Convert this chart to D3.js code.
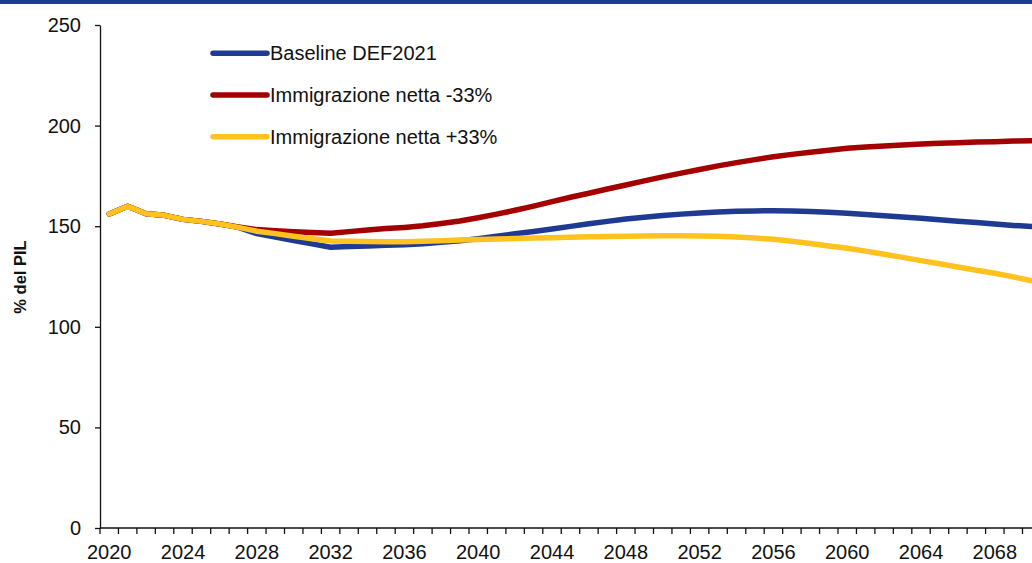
<!DOCTYPE html>
<html>
<head>
<meta charset="utf-8">
<script src="https://cdn.jsdelivr.net/npm/d3@7"></script>
<style>
  html, body { margin: 0; padding: 0; background: #fff; }
  svg { display: block; }
  text { font-family: "Liberation Sans", Arial, sans-serif; fill: #111; }
</style>
</head>
<body>
<svg id="chart" width="1032" height="563"></svg>
<script>
const years = d3.range(2020, 2071);
const seriesNames = ["Baseline DEF2021", "Immigrazione netta -33%", "Immigrazione netta +33%"];
const seriesColors = ["#1f3a93", "#a50000", "#ffc21e"];
const yTicks = [0, 50, 100, 150, 200, 250];
const xTickLabels = [2020, 2024, 2028, 2032, 2036, 2040, 2044, 2048, 2052, 2056, 2060, 2064, 2068];

const baseline = [
  156.1, 159.9, 156.2, 155.4, 153.4, 152.4, 151.1, 149.4, 146.3, 144.6,
  142.9, 141.2, 139.5, 139.9, 140.2, 140.5, 140.8, 141.3, 142.0, 142.8,
  143.8, 145.0, 146.2, 147.4, 148.6, 149.9, 151.2, 152.4, 153.6, 154.5,
  155.3, 156.0, 156.6, 157.0, 157.4, 157.6, 157.7, 157.6, 157.3, 156.9,
  156.4, 155.8, 155.2, 154.6, 153.9, 153.2, 152.5, 151.8, 151.1, 150.4,
  149.8
];
const immMinus33 = [
  156.1, 159.9, 156.2, 155.4, 153.4, 152.4, 151.1, 149.6, 148.3, 147.8,
  147.3, 146.9, 146.5, 147.3, 148.1, 148.8, 149.4, 150.2, 151.3, 152.6,
  154.2, 156.0, 157.9, 160.0, 162.2, 164.4, 166.4, 168.5, 170.5, 172.5,
  174.5, 176.4, 178.2, 180.0, 181.6, 183.1, 184.5, 185.7, 186.8, 187.8,
  188.7, 189.4, 189.9, 190.4, 190.9, 191.2, 191.5, 191.8, 192.0, 192.3,
  192.5
];
const immPlus33 = [
  156.1, 159.9, 156.2, 155.4, 153.4, 152.4, 151.1, 149.4, 147.5, 146.3,
  145.0, 143.8, 142.6, 142.5, 142.4, 142.3, 142.3, 142.5, 142.8, 143.1,
  143.4, 143.6, 143.9, 144.1, 144.3, 144.5, 144.7, 144.9, 145.0, 145.1,
  145.2, 145.2, 145.1, 145.0, 144.6, 144.1, 143.5, 142.5, 141.4, 140.2,
  139.0, 137.6, 136.1, 134.5, 132.9, 131.3, 129.7, 128.1, 126.6, 124.8,
  122.9
];
const seriesValues = [baseline, immMinus33, immPlus33];

const svg = d3.select("#chart");
const W = 1032, H = 563;
const mLeft = 100, mTop = 25, mBottom = 528;
const bandW = 18.45;

svg.append("rect").attr("x", 0).attr("y", 0).attr("width", W).attr("height", 4).attr("fill", "#1f3a93");

const x = d3.scaleBand().domain(years).range([mLeft, mLeft + years.length * bandW]).paddingInner(0).paddingOuter(0);
const y = d3.scaleLinear().domain([0, 250]).range([mBottom, mTop]);

// Y axis
const yAxis = svg.append("g").attr("transform", `translate(${mLeft},0)`)
  .call(d3.axisLeft(y).tickValues(yTicks).tickSize(5).tickPadding(14).tickSizeOuter(0));
yAxis.select(".domain").attr("stroke", "#111").attr("stroke-width", 1.3);
yAxis.selectAll(".tick line").attr("stroke", "#111").attr("stroke-width", 1.3);
yAxis.selectAll("text").style("font-size", "20px").attr("fill", "#111");

// X axis (labels)
const xAxis = svg.append("g").attr("transform", `translate(0,${mBottom})`)
  .call(d3.axisBottom(x).tickValues(xTickLabels).tickSize(0).tickPadding(17).tickSizeOuter(0));
xAxis.select(".domain").remove();
xAxis.selectAll("text").style("font-size", "20px").attr("fill", "#111");

// X axis line and ticks at band boundaries
svg.append("line").attr("x1", mLeft).attr("x2", W).attr("y1", mBottom).attr("y2", mBottom)
  .attr("stroke", "#111").attr("stroke-width", 1.3);
svg.append("g").selectAll("line").data(years).join("line")
  .attr("x1", d => x(d)).attr("x2", d => x(d))
  .attr("y1", mBottom).attr("y2", mBottom + 6)
  .attr("stroke", "#111").attr("stroke-width", 1.3);

// Y axis title
svg.append("text")
  .attr("transform", "translate(26,277) rotate(-90)")
  .attr("text-anchor", "middle")
  .style("font-size", "16.5px").style("font-weight", "bold")
  .text("% del PIL");

// Lines
const line = d3.line()
  .x((d, i) => x(years[i]) + x.bandwidth() / 2)
  .y(d => y(d))
  .curve(d3.curveLinear);

seriesValues.forEach((vals, k) => {
  svg.append("path").datum(vals)
    .attr("d", line)
    .attr("fill", "none")
    .attr("stroke", seriesColors[k])
    .attr("stroke-width", 5.5)
    .attr("stroke-linejoin", "round")
    .attr("stroke-linecap", "round");
});

// Legend
const legY = [53.3, 95, 136.7];
const leg = svg.append("g");
seriesNames.forEach((name, k) => {
  leg.append("line").attr("x1", 213).attr("x2", 267).attr("y1", legY[k]).attr("y2", legY[k])
    .attr("stroke", seriesColors[k]).attr("stroke-width", 5.5).attr("stroke-linecap", "round");
  leg.append("text").attr("x", 270).attr("y", legY[k]).attr("dy", "0.35em")
    .style("font-size", "20px").text(name);
});
</script>
</body>
</html>
